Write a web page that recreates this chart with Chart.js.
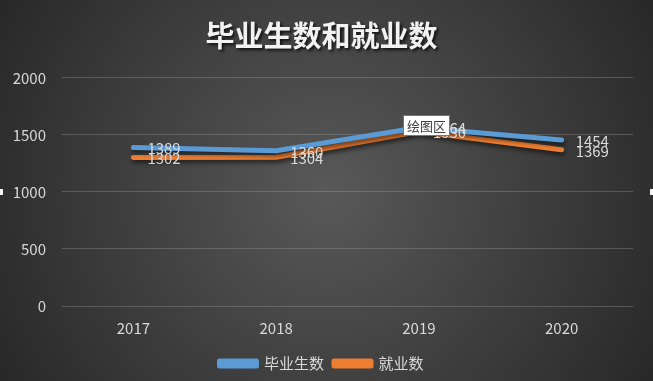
<!DOCTYPE html>
<html>
<head>
<meta charset="utf-8">
<script src="https://cdn.jsdelivr.net/npm/chart.js@4"></script>
<style>
html,body{margin:0;padding:0;background:#333;}
#wrap{width:653px;height:381px;position:relative;}
</style>
</head>
<body>
<div id="wrap"><canvas id="c" width="653" height="381"></canvas></div>
<script>
const categories = ['2017', '2018', '2019', '2020'];
const graduates = [1389, 1360, 1564, 1454];
const employed = [1302, 1304, 1530, 1369];
const seriesNames = ['毕业生数', '就业数'];
const titleText = '毕业生数和就业数';
const tipText = '绘图区';

const FONT = "'Noto Sans CJK SC', 'Noto Sans', sans-serif";

const bgPlugin = {
  id: 'bg',
  beforeDraw(chart) {
    const ctx = chart.ctx;
    const w = chart.width, h = chart.height;
    ctx.save();
    const g = ctx.createRadialGradient(w / 2, h / 2, 0, w / 2, h / 2, w * 0.6);
    g.addColorStop(0, '#595959');
    g.addColorStop(1, '#262626');
    ctx.fillStyle = g;
    ctx.fillRect(0, 0, w, h);
    ctx.restore();
  },
  afterInit(chart) {
    const tb = chart.titleBlock;
    if (tb && !tb._wrapped) {
      const orig = tb.draw;
      tb.draw = function () {
        const ctx = this.ctx;
        ctx.save();
        ctx.shadowColor = 'rgba(0,0,0,0.75)';
        ctx.shadowOffsetX = 2;
        ctx.shadowOffsetY = 2;
        ctx.shadowBlur = 3;
        orig.apply(this, arguments);
        ctx.restore();
      };
      tb._wrapped = true;
    }
  },
  beforeDatasetDraw(chart) {
    const ctx = chart.ctx;
    ctx.save();
    ctx.shadowColor = 'rgba(0,0,0,0.55)';
    ctx.shadowOffsetX = 1;
    ctx.shadowOffsetY = 3;
    ctx.shadowBlur = 4;
  },
  afterDatasetDraw(chart) {
    chart.ctx.restore();
  },
  afterDatasetsDraw(chart) {
    const ctx = chart.ctx;
    ctx.save();
    ctx.font = '15px ' + FONT;
    ctx.fillStyle = '#d9d9d9';
    ctx.textAlign = 'left';
    ctx.textBaseline = 'middle';
    chart.data.datasets.forEach((ds, di) => {
      const meta = chart.getDatasetMeta(di);
      meta.data.forEach((pt, i) => {
        ctx.fillText(String(ds.data[i]), pt.x + 14, pt.y + 1);
      });
    });
    // hover tooltip box near 2019 point
    const p = chart.getDatasetMeta(0).data[2];
    const bx = Math.round(p.x - 16), by = Math.round(p.y - 13);
    ctx.font = '13px ' + FONT;
    const tw = ctx.measureText(tipText).width;
    const bw = Math.round(tw + 8), bh = 21;
    ctx.fillStyle = '#ffffff';
    ctx.fillRect(bx, by, bw, bh);
    ctx.strokeStyle = '#767676';
    ctx.lineWidth = 1;
    ctx.strokeRect(bx + 0.5, by + 0.5, bw - 1, bh - 1);
    ctx.fillStyle = '#404040';
    ctx.fillText(tipText, bx + 4, by + bh / 2 + 1);
    // selection handles at the chart edges (middle height of plot area)
    const area = chart.chartArea;
    const my = Math.round((area.top + area.bottom) / 2) - 3;
    ctx.fillStyle = '#f2f2f2';
    ctx.fillRect(0, my, 3, 6);
    ctx.fillRect(chart.width - 3, my, 3, 6);
    ctx.restore();
  }
};

new Chart(document.getElementById('c'), {
  type: 'line',
  data: {
    labels: categories,
    datasets: [
      { label: seriesNames[0], data: graduates, borderColor: '#5b9bd5', backgroundColor: '#5b9bd5', borderWidth: 5, pointRadius: 0, tension: 0, borderCapStyle: 'round', borderJoinStyle: 'round' },
      { label: seriesNames[1], data: employed, borderColor: '#ed7d31', backgroundColor: '#ed7d31', borderWidth: 5, pointRadius: 0, tension: 0, borderCapStyle: 'round', borderJoinStyle: 'round' }
    ]
  },
  options: {
    responsive: false,
    animation: false,
    devicePixelRatio: 1,
    layout: { padding: { left: 10, right: 20, top: 19, bottom: 0 } },
    plugins: {
      title: {
        display: true,
        text: titleText,
        color: '#f2f2f2',
        font: { family: FONT, size: 29, weight: 'bold' },
        padding: { top: 0, bottom: 24 }
      },
      legend: {
        position: 'bottom',
        labels: {
          color: '#d9d9d9',
          font: { family: FONT, size: 15 },
          boxWidth: 37,
          boxHeight: 5,
          padding: 10
        }
      },
      tooltip: { enabled: false }
    },
    scales: {
      x: {
        offset: true,
        grid: { display: false, drawTicks: false },
        border: { display: false },
        ticks: { color: '#d9d9d9', font: { family: FONT, size: 15 }, padding: 13 },
        afterFit(s) { s.height = 40; }
      },
      y: {
        min: 0, max: 2000,
        ticks: { stepSize: 500, color: '#d9d9d9', font: { family: FONT, size: 15 }, padding: 16, callback: (v) => String(v) },
        grid: { color: 'rgba(160,160,160,0.35)', drawTicks: false, lineWidth: 1 },
        border: { display: false },
        afterFit(s) { s.width = 52; }
      }
    }
  },
  plugins: [bgPlugin]
});
</script>
</body>
</html>
